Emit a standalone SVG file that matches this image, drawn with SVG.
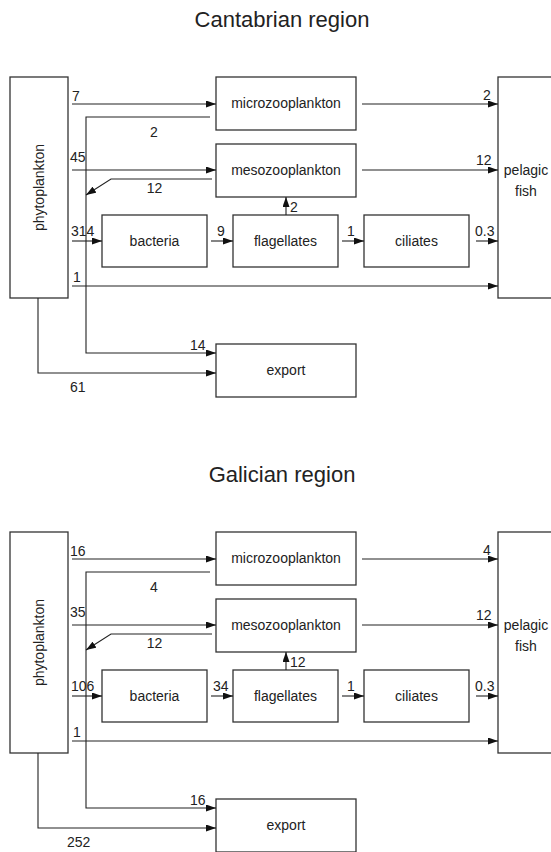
<svg xmlns="http://www.w3.org/2000/svg" width="551" height="852" viewBox="0 0 551 852">
<defs>
<style>
.box{fill:#fff;stroke:#333;stroke-width:1.3}
.ln{fill:none;stroke:#222;stroke-width:1.1}
.ar{marker-end:url(#ah)}
text{font-family:"Liberation Sans",Arial,sans-serif;fill:#222}
.t{font-size:22px;text-anchor:middle}
.n{font-size:14px;text-anchor:middle}
.v{font-size:14px}
.vm{font-size:14px;text-anchor:middle}
</style>
<marker id="ah" viewBox="0 0 10 7" refX="10" refY="3.5" markerWidth="10" markerHeight="7" markerUnits="userSpaceOnUse" orient="auto">
<path d="M0,0 L10,3.5 L0,7 z" fill="#111"/>
</marker>
</defs>
<rect width="551" height="852" fill="#fff"/>

<!-- Cantabrian region -->
<text class="t" x="282" y="27">Cantabrian region</text>
<g id="c-phytoplankton"><rect class="box" x="10" y="77" width="58" height="221"/><text class="n" transform="translate(44,187.5) rotate(-90)">phytoplankton</text></g>
<g id="c-microzooplankton"><rect class="box" x="216" y="77" width="140" height="53"/><text class="n" x="286" y="108">microzooplankton</text></g>
<g id="c-mesozooplankton"><rect class="box" x="216" y="144" width="140" height="53"/><text class="n" x="286" y="175">mesozooplankton</text></g>
<g id="c-pelagic-fish"><rect class="box" x="498" y="77" width="60" height="221"/><text class="n" x="526" y="175">pelagic</text><text class="n" x="526" y="196">fish</text></g>
<g id="c-bacteria"><rect class="box" x="102" y="215" width="105" height="52"/><text class="n" x="154.5" y="246">bacteria</text></g>
<g id="c-flagellates"><rect class="box" x="233" y="215" width="105" height="52"/><text class="n" x="285.5" y="246">flagellates</text></g>
<g id="c-ciliates"><rect class="box" x="364" y="215" width="105" height="52"/><text class="n" x="416.5" y="246">ciliates</text></g>
<g id="c-export"><rect class="box" x="216" y="344" width="140" height="53"/><text class="n" x="286" y="375">export</text></g>
<g id="c-connectors">
<path class="ln ar" d="M72,104 H216"/>
<path class="ln ar" d="M210,117 H86 V353 H216"/>
<path class="ln ar" d="M72,170 H216"/>
<path class="ln ar" d="M212,179 H111 L86,195"/>
<path class="ln ar" d="M72,241 H102"/>
<path class="ln ar" d="M211,241 H233"/>
<path class="ln ar" d="M342,241 H364"/>
<path class="ln ar" d="M476,241 H498"/>
<path class="ln ar" d="M72,286 H498"/>
<path class="ln ar" d="M362,104 H498"/>
<path class="ln ar" d="M362,170 H498"/>
<path class="ln ar" d="M286,215 V197"/>
<path class="ln ar" d="M38,298 V373 H216"/>
<text class="v" x="72" y="101">7</text>
<text class="vm" x="154" y="137">2</text>
<text class="v" x="70" y="162">45</text>
<text class="vm" x="154.5" y="193">12</text>
<text class="v" x="71" y="236">314</text>
<text class="vm" x="221" y="236">9</text>
<text class="vm" x="351" y="236">1</text>
<text class="v" x="475" y="236">0.3</text>
<text class="vm" x="77" y="282">1</text>
<text class="vm" x="487" y="100">2</text>
<text class="v" x="476" y="165">12</text>
<text class="v" x="290" y="212">2</text>
<text class="v" x="190" y="350">14</text>
<text class="v" x="70" y="392">61</text>
</g>

<!-- Galician region -->
<text class="t" x="282" y="482">Galician region</text>
<g id="g-phytoplankton"><rect class="box" x="10" y="532" width="58" height="221"/><text class="n" transform="translate(44,642.5) rotate(-90)">phytoplankton</text></g>
<g id="g-microzooplankton"><rect class="box" x="216" y="532" width="140" height="53"/><text class="n" x="286" y="563">microzooplankton</text></g>
<g id="g-mesozooplankton"><rect class="box" x="216" y="599" width="140" height="53"/><text class="n" x="286" y="630">mesozooplankton</text></g>
<g id="g-pelagic-fish"><rect class="box" x="498" y="532" width="60" height="221"/><text class="n" x="526" y="630">pelagic</text><text class="n" x="526" y="651">fish</text></g>
<g id="g-bacteria"><rect class="box" x="102" y="670" width="105" height="52"/><text class="n" x="154.5" y="701">bacteria</text></g>
<g id="g-flagellates"><rect class="box" x="233" y="670" width="105" height="52"/><text class="n" x="285.5" y="701">flagellates</text></g>
<g id="g-ciliates"><rect class="box" x="364" y="670" width="105" height="52"/><text class="n" x="416.5" y="701">ciliates</text></g>
<g id="g-export"><rect class="box" x="216" y="799" width="140" height="53"/><text class="n" x="286" y="830">export</text></g>
<g id="g-connectors">
<path class="ln ar" d="M72,559 H216"/>
<path class="ln ar" d="M210,572 H86 V808 H216"/>
<path class="ln ar" d="M72,625 H216"/>
<path class="ln ar" d="M212,634 H111 L86,650"/>
<path class="ln ar" d="M72,696 H102"/>
<path class="ln ar" d="M211,696 H233"/>
<path class="ln ar" d="M342,696 H364"/>
<path class="ln ar" d="M476,696 H498"/>
<path class="ln ar" d="M72,741 H498"/>
<path class="ln ar" d="M362,559 H498"/>
<path class="ln ar" d="M362,625 H498"/>
<path class="ln ar" d="M286,670 V652"/>
<path class="ln ar" d="M38,753 V828 H216"/>
<text class="v" x="70" y="556">16</text>
<text class="vm" x="154" y="592">4</text>
<text class="v" x="70" y="617">35</text>
<text class="vm" x="154.5" y="648">12</text>
<text class="v" x="71" y="691">106</text>
<text class="v" x="213" y="691">34</text>
<text class="vm" x="351" y="691">1</text>
<text class="v" x="475" y="691">0.3</text>
<text class="vm" x="77" y="737">1</text>
<text class="vm" x="487" y="555">4</text>
<text class="v" x="476" y="620">12</text>
<text class="v" x="290" y="667">12</text>
<text class="v" x="190" y="805">16</text>
<text class="v" x="67" y="847">252</text>
</g>
</svg>
